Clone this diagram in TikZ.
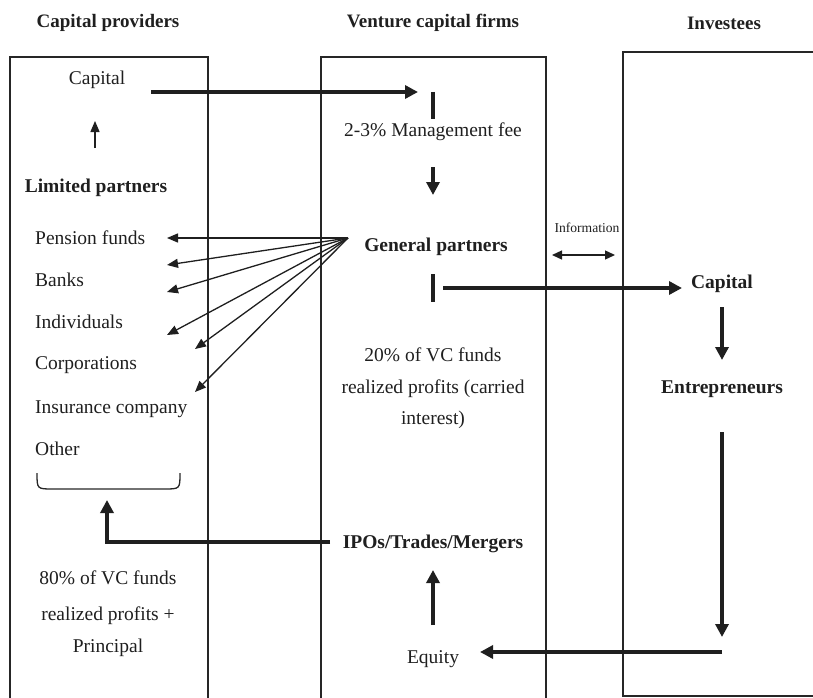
\documentclass[tikz,border=0pt]{standalone}
\usepackage{fontspec}
\setmainfont{Liberation Serif}
\usetikzlibrary{arrows.meta}
\newcommand{\fsz}{\fontsize{19.5}{23}\selectfont}
\newcommand{\hsz}{\fontsize{19}{23}\selectfont}
\newcommand{\ssz}{\fontsize{13.6}{16}\selectfont}
\tikzset{
  lbl/.style={inner sep=0pt, font=\fsz, text height=0.7em, text depth=0.2em, text=black!88, yshift=-4pt},
  blbl/.style={lbl, font=\fsz\bfseries},
  hdr/.style={inner sep=0pt, font=\hsz\bfseries, text=black!88, yshift=-4pt},
  frame/.style={line width=1.3pt, draw=black!85},
  thick arrow/.style={line width=4pt, draw=black!88, -{Triangle[length=13pt,width=13pt]}},
  thin arrow/.style={line width=1.3pt, draw=black!88, -{Triangle[length=11pt,width=9pt]}},
  bar/.style={line width=4.5pt, draw=black!88},
}
\begin{document}
\begin{tikzpicture}[x=1pt,y=-1pt]
\useasboundingbox (0,0) rectangle (813,698);
\clip (0,0) rectangle (813,698);
% frames
\draw[frame] (10,720) -- (10,57) -- (208,57) -- (208,720);
\draw[frame] (321,720) -- (321,57) -- (546,57) -- (546,720);
\draw[frame] (830,52) -- (623,52) -- (623,696) -- (830,696);
% headers
\node[hdr] (h1) at (108,19) {Capital providers};
\node[hdr] (h2) at (433,19) {Venture capital firms};
\node[hdr] (h3) at (724,19) {Investees};
% left column
\node[lbl] (cap1) at (97,78) {Capital};
\node[blbl] (lp) at (96,186) {Limited partners};
\node[lbl, anchor=west] (pf) at (35,238) {Pension funds};
\node[lbl, anchor=west] (bk) at (35,280) {Banks};
\node[lbl, anchor=west] (ind) at (35,322) {Individuals};
\node[lbl, anchor=west] (corp) at (35,363) {Corporations};
\node[lbl, anchor=west] (ins) at (35,407) {Insurance company};
\node[lbl, anchor=west] (oth) at (35,449) {Other};
\node[lbl] (p80a) at (108,578) {80\% of VC funds};
\node[lbl] (p80b) at (108,614) {realized profits +};
\node[lbl] (p80c) at (108,646) {Principal};
% middle column
\node[lbl] (mf) at (433,130) {2-3\% Management fee};
\node[blbl] (gp) at (436,245) {General partners};
\node[lbl] (p20a) at (433,355) {20\% of VC funds};
\node[lbl] (p20b) at (433,387) {realized profits (carried};
\node[lbl] (p20c) at (433,418) {interest)};
\node[blbl] (ipo) at (433,542) {IPOs/Trades/Mergers};
\node[lbl] (eq) at (433,657) {Equity};
% right column
\node[blbl] (cap2) at (722,282) {Capital};
\node[blbl] (ent) at (722,387) {Entrepreneurs};
\node[inner sep=0pt, font=\ssz, text=black!88, yshift=-2pt] (info) at (587,226) {Information};
% coordinates
\coordinate (lpTop) at (95,148);
\coordinate (capUp) at (95,121);
\coordinate (capS) at (151,92);
\coordinate (capE) at (418,92);
\coordinate (bar1a) at (433,92);
\coordinate (bar1b) at (433,119);
\coordinate (mfS) at (433,167);
\coordinate (mfE) at (433,195);
\coordinate (fan) at (348,238);
\coordinate (t1) at (167,238);
\coordinate (t2) at (167,265);
\coordinate (t3) at (167,292);
\coordinate (t4) at (167,335);
\coordinate (t5) at (195,349);
\coordinate (t6) at (195,392);
\coordinate (bar2a) at (433,274);
\coordinate (bar2b) at (433,302);
\coordinate (gpS) at (443,288);
\coordinate (gpE) at (682,288);
\coordinate (infoL) at (552,255);
\coordinate (infoR) at (615,255);
\coordinate (c2S) at (722,307);
\coordinate (c2E) at (722,360);
\coordinate (enS) at (722,432);
\coordinate (enE) at (722,637);
\coordinate (eqS) at (722,652);
\coordinate (eqE) at (480,652);
\coordinate (upS) at (433,625);
\coordinate (upE) at (433,570);
\coordinate (retS) at (330,542);
\coordinate (retC) at (107,542);
\coordinate (retE) at (107,500);
% connectors
\draw[thin arrow] (lpTop) -- (capUp);
\draw[thick arrow] (capS) -- (capE);
\draw[bar] (bar1a) -- (bar1b);
\draw[thick arrow] (mfS) -- (mfE);
\foreach \t in {t1,t2,t3,t4,t5,t6} \draw[thin arrow] (fan) -- (\t);
\draw[bar] (bar2a) -- (bar2b);
\draw[thick arrow] (gpS) -- (gpE);
\draw[line width=1.3pt, draw=black!88, {Triangle[length=10pt,width=9pt]}-{Triangle[length=10pt,width=9pt]}] (infoL) -- (infoR);
\draw[thick arrow] (c2S) -- (c2E);
\draw[thick arrow] (enS) -- (enE);
\draw[thick arrow] (eqS) -- (eqE);
\draw[thick arrow] (upS) -- (upE);
\draw[thick arrow] (retS) -- (retC) -- (retE);
% brace
\draw[line width=1.3pt, draw=black!85] (37,473) .. controls (37,489) .. (53,489) -- (164,489) .. controls (180,489) .. (180,473);
\end{tikzpicture}
\end{document}
